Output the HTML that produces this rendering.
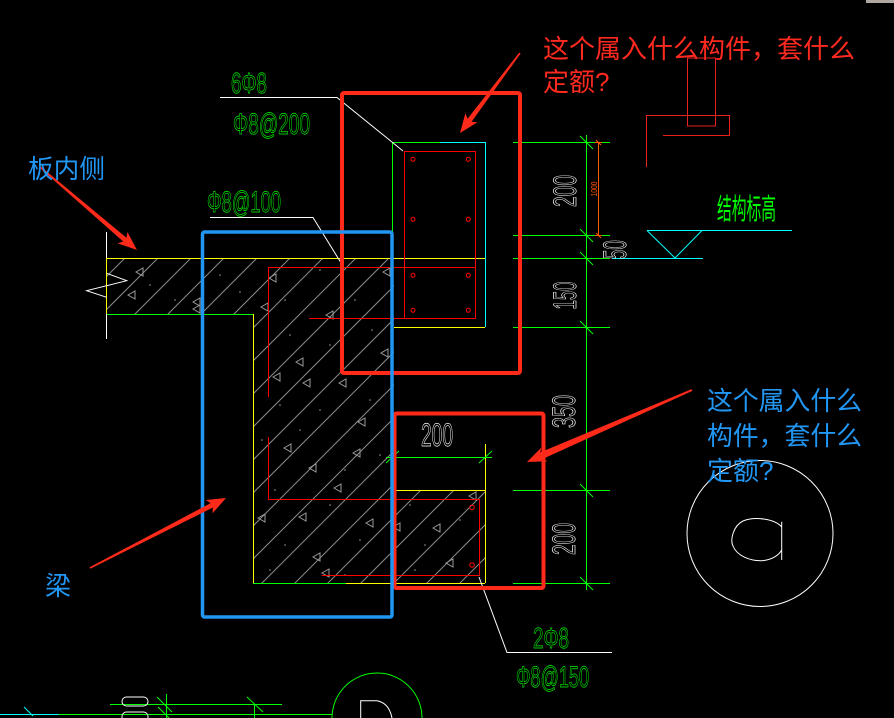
<!DOCTYPE html>
<html>
<head>
<meta charset="utf-8">
<style>
html,body{margin:0;padding:0;background:#000;width:894px;height:718px;overflow:hidden;}
svg{display:block;overflow:hidden;}
.cad{font-family:"Liberation Sans",sans-serif;fill:none;stroke-width:0.7;}
.cn{font-family:"Liberation Sans","Noto Sans CJK SC",sans-serif;}
</style>
</head>
<body>
<svg width="894" height="718" viewBox="0 0 894 718" xmlns="http://www.w3.org/2000/svg">
<defs>
  <clipPath id="conc">
    <polygon points="106,258 394,258 394,490 485,490 485,583 253,583 253,314 106,314"/>
  </clipPath>
  <path id="tri" d="M-4 0L3 -4L3 4Z" fill="none" stroke="#9a9a9a" stroke-width="1"/>
</defs>
<rect x="0" y="0" width="894" height="718" fill="#000"/>

<!-- hatch -->
<g clip-path="url(#conc)" stroke="#8c8c8c" stroke-width="1" fill="none">
  <path d="M350 0L-350 700M383 0L-317 700M416 0L-284 700M449 0L-251 700M482 0L-218 700M515 0L-185 700M548 0L-152 700M581 0L-119 700M614 0L-86 700M647 0L-53 700M680 0L-20 700M713 0L13 700M746 0L46 700M779 0L79 700M812 0L112 700M845 0L145 700M878 0L178 700M911 0L211 700M944 0L244 700M977 0L277 700M1010 0L310 700M1043 0L343 700M1076 0L376 700"/>
</g>
<!-- concrete triangles -->
<g>
  <use href="#tri" x="140" y="272"/><use href="#tri" x="132" y="295"/><use href="#tri" x="197" y="302"/>
  <use href="#tri" x="197" y="309"/><use href="#tri" x="273" y="278"/><use href="#tri" x="265" y="307"/>
  <use href="#tri" x="387" y="272"/><use href="#tri" x="330" y="315"/><use href="#tri" x="300" y="362"/>
  <use href="#tri" x="277" y="377"/><use href="#tri" x="307" y="383"/><use href="#tri" x="343" y="383"/>
  <use href="#tri" x="385" y="353"/><use href="#tri" x="362" y="422"/><use href="#tri" x="288" y="448"/>
  <use href="#tri" x="313" y="468"/><use href="#tri" x="357" y="453"/><use href="#tri" x="338" y="488"/>
  <use href="#tri" x="262" y="518"/><use href="#tri" x="303" y="517"/><use href="#tri" x="370" y="523"/>
  <use href="#tri" x="317" y="557"/><use href="#tri" x="326" y="573"/><use href="#tri" x="397" y="527"/>
  <use href="#tri" x="437" y="528"/><use href="#tri" x="450" y="563"/><use href="#tri" x="473" y="496"/>
</g>
<g fill="#9a9a9a">
  <circle cx="150" cy="285" r="0.8"/><circle cx="175" cy="300" r="0.8"/><circle cx="220" cy="275" r="0.8"/>
  <circle cx="240" cy="292" r="0.8"/><circle cx="285" cy="300" r="0.8"/><circle cx="320" cy="270" r="0.8"/>
  <circle cx="355" cy="300" r="0.8"/><circle cx="372" cy="330" r="0.8"/><circle cx="290" cy="335" r="0.8"/>
  <circle cx="330" cy="345" r="0.8"/><circle cx="280" cy="405" r="0.8"/><circle cx="320" cy="410" r="0.8"/>
  <circle cx="370" cy="400" r="0.8"/><circle cx="262" cy="440" r="0.8"/><circle cx="300" cy="430" r="0.8"/>
  <circle cx="345" cy="470" r="0.8"/><circle cx="380" cy="455" r="0.8"/><circle cx="275" cy="490" r="0.8"/>
  <circle cx="330" cy="505" r="0.8"/><circle cx="360" cy="540" r="0.8"/><circle cx="285" cy="545" r="0.8"/>
  <circle cx="270" cy="570" r="0.8"/><circle cx="345" cy="575" r="0.8"/><circle cx="410" cy="505" r="0.8"/>
  <circle cx="425" cy="545" r="0.8"/><circle cx="460" cy="520" r="0.8"/><circle cx="415" cy="570" r="0.8"/>
</g>

<!-- slab / beam outlines -->
<g fill="none" stroke-width="1">
  <line x1="106" y1="258.5" x2="485" y2="258.5" stroke="#ffff00"/>
  <line x1="106" y1="314.5" x2="253" y2="314.5" stroke="#00ff00"/>
  <line x1="106.5" y1="258" x2="106.5" y2="314" stroke="#ffff00"/>
  <line x1="253.5" y1="314" x2="253.5" y2="583" stroke="#ffff00"/>
  <line x1="253" y1="583.5" x2="346" y2="583.5" stroke="#00ff00"/>
  <line x1="346" y1="583.5" x2="485" y2="583.5" stroke="#ffff00"/>
  <line x1="394" y1="490.5" x2="485" y2="490.5" stroke="#ffff00"/>
  <line x1="485.5" y1="444" x2="485.5" y2="583" stroke="#ffff00"/>
  <!-- upper element -->
  <line x1="392.5" y1="142" x2="392.5" y2="258" stroke="#00ff00"/>
  <line x1="392" y1="142.5" x2="440" y2="142.5" stroke="#00ff00"/>
  <line x1="440" y1="142.5" x2="485" y2="142.5" stroke="#00ffff"/>
  <line x1="485.5" y1="142" x2="485.5" y2="327" stroke="#00ffff"/>
  <line x1="394" y1="327.5" x2="485" y2="327.5" stroke="#ffff00"/>
  <!-- break line -->
  <line x1="106.5" y1="232" x2="106.5" y2="258" stroke="#ffffff"/>
  <line x1="106.5" y1="314" x2="106.5" y2="339" stroke="#ffffff"/>
  <polyline points="106.7,273.3 126.7,280.7 86.7,290.7 106.7,297.3" stroke="#ffffff"/>
</g>

<!-- red rebars -->
<g fill="none" stroke="#ff0000" stroke-width="1">
  <rect x="404.5" y="151.5" width="71" height="167"/>
  <line x1="268" y1="267.5" x2="476" y2="267.5"/>
  <line x1="309" y1="318.5" x2="404" y2="318.5"/>
  <line x1="268.5" y1="267" x2="268.5" y2="397"/>
  <polyline points="268.5,437 268.5,499.5 479.5,499.5 479.5,575.5 321.7,575.5"/>
  <circle cx="413" cy="159.3" r="2"/><circle cx="468.3" cy="159.3" r="2"/>
  <circle cx="413" cy="219.3" r="2"/><circle cx="468.3" cy="219.3" r="2"/>
  <circle cx="413" cy="275.3" r="2"/><circle cx="468.3" cy="275.3" r="2"/>
  <circle cx="413" cy="310.3" r="2"/><circle cx="468.3" cy="310.3" r="2"/>
  <circle cx="472" cy="507.3" r="2.3"/><circle cx="472" cy="565" r="2.3"/>
  <!-- top right shape -->
  <rect x="687.5" y="58" width="28" height="68" stroke="#e82020"/>
  <polyline points="646.5,167 646.5,115.5 729.5,115.5 729.5,135.5 663,135.5" stroke="#e82020"/>
</g>

<!-- white leaders -->
<g fill="none" stroke="#ffffff" stroke-width="1">
  <polyline points="220,97.5 337,97.5 403,151"/>
  <polyline points="210,217.5 313,217.5 338,258 343,266"/>
  <polyline points="479,577 507,652.5 612,652.5"/>
</g>

<!-- dimension lines -->
<g fill="none" stroke="#00ff00" stroke-width="1">
  <line x1="586.5" y1="135" x2="586.5" y2="590"/>
  <line x1="513" y1="142.5" x2="610" y2="142.5"/>
  <line x1="513" y1="235.5" x2="610" y2="235.5"/>
  <line x1="513" y1="258.5" x2="610" y2="258.5"/>
  <line x1="513" y1="327.5" x2="610" y2="327.5"/>
  <line x1="513" y1="490.5" x2="610" y2="490.5"/>
  <line x1="513" y1="583.5" x2="610" y2="583.5"/>
  <path d="M580 136L593 149M580 229L593 242M580 252L593 265M580 321L593 334M580 484L593 497M580 577L593 590"/>
  <line x1="386" y1="457.5" x2="492" y2="457.5"/>
  <path d="M386 463L399 451M479 463L492 451"/>
  <!-- bottom -->
  <line x1="110" y1="704.5" x2="282" y2="704.5"/>
  <line x1="59" y1="714.5" x2="332" y2="714.5"/>
  <line x1="166.5" y1="694" x2="166.5" y2="718"/>
  <line x1="254.5" y1="704" x2="254.5" y2="718"/>
  <path d="M157 697L172 712M158 707L169 718M247 697L263 712"/>
  <path d="M332 718A45 45 0 0 1 422 718"/>
</g>
<g fill="none" stroke="#00ffff" stroke-width="1">
  <line x1="0" y1="714.5" x2="59" y2="714.5"/>
  <path d="M24 707L33 716"/>
  <line x1="647" y1="230.5" x2="792" y2="230.5"/>
  <line x1="612" y1="258.5" x2="703" y2="258.5"/>
  <polyline points="647,230.5 675,258 702,230.5"/>
</g>
<!-- orange dim -->
<g stroke="#ff5a00" stroke-width="1" fill="none">
  <line x1="598.5" y1="142" x2="598.5" y2="235"/>
  <path d="M595 142.5L602 142.5M595 235.5L602 235.5M596 140L601 145M596 233L601 238"/>
</g>
<text transform="translate(597,189) rotate(-90)" text-anchor="middle" font-family="Liberation Sans,sans-serif" font-size="8" fill="#ff5a00" textLength="15" lengthAdjust="spacingAndGlyphs">1000</text>

<!-- white shapes -->
<g fill="none" stroke="#ffffff" stroke-width="1">
  <circle cx="760" cy="533.5" r="73"/>
  <path d="M781.7 527C775 519 755 516 743 521C733 526 730 540 733 546C737 556 750 561 762 560.7C772 560 779 555 781.7 550M781.7 521.7L781.7 560"/>
  <path d="M360.7 718L360.7 700.7L377 700.7Q389 703 392 718"/>
  <path d="M126.5 697H143.5A4.5 4.5 0 0 1 143.5 706H126.5A4.5 4.5 0 0 1 126.5 697Z"/>
  <path d="M122 718V716.5A4.5 4.5 0 0 1 126.5 712H143.5A4.5 4.5 0 0 1 148 716.5V718"/>
</g>
<rect x="866" y="0" width="28" height="3" fill="#b0a8a0"/>

<!-- CAD texts -->
<g class="cad" stroke="#ffffff">
  <text transform="translate(576,191) rotate(-90)" text-anchor="middle" font-size="32" textLength="32" lengthAdjust="spacingAndGlyphs">200</text>
  <text transform="translate(576,295.5) rotate(-90)" text-anchor="middle" font-size="32" textLength="28" lengthAdjust="spacingAndGlyphs">150</text>
  <text transform="translate(575,411.5) rotate(-90)" text-anchor="middle" font-size="32" textLength="33" lengthAdjust="spacingAndGlyphs">350</text>
  <text transform="translate(575,539) rotate(-90)" text-anchor="middle" font-size="32" textLength="32" lengthAdjust="spacingAndGlyphs">200</text>
  <text transform="translate(626,249.6) rotate(-90)" text-anchor="middle" font-size="32" textLength="19" lengthAdjust="spacingAndGlyphs">50</text>
  <text x="421" y="446" font-size="32" textLength="32" lengthAdjust="spacingAndGlyphs">200</text>
</g>
<g class="cad" stroke="#00ff00">
  <text x="231" y="93" font-size="29" textLength="36" lengthAdjust="spacingAndGlyphs">6Φ8</text>
  <text x="233" y="134" font-size="30" textLength="77" lengthAdjust="spacingAndGlyphs">Φ8@200</text>
  <text x="207" y="212" font-size="30" textLength="74" lengthAdjust="spacingAndGlyphs">Φ8@100</text>
  <text x="533" y="648" font-size="29" textLength="36" lengthAdjust="spacingAndGlyphs">2Φ8</text>
  <text x="516" y="687" font-size="30" textLength="73" lengthAdjust="spacingAndGlyphs">Φ8@150</text>
</g>
<text class="cn" x="717" y="219" font-size="29" fill="#00ff00" textLength="59" lengthAdjust="spacingAndGlyphs">结构标高</text>

<!-- annotation boxes -->
<rect x="342" y="93" width="178" height="280" fill="none" stroke="#ff2a1a" stroke-width="4" rx="2"/>
<rect x="394.5" y="413.5" width="149" height="174.5" fill="none" stroke="#ff2a1a" stroke-width="4" rx="2"/>
<rect x="202.5" y="232" width="189.5" height="385" fill="none" stroke="#2196f3" stroke-width="3.5" rx="2"/>

<!-- arrows -->
<g fill="#ff2a1a">
  <polygon points="39.48,167.61 123.21,241.50 117.68,243.35 137,250 127.44,231.95 126.47,237.70 40.52,166.39"/>
  <polygon points="519.36,52.52 467.6,118.7 465.4,113.3 460,133 477.4,122.3 471.6,121.7 520.64,53.48"/>
  <polygon points="691.6,389.1 540.27,452.39 541.42,447.53 527,462 547.42,461.27 543.07,458.81 692.4,390.9"/>
  <polygon points="90.37,568.71 212.91,507.54 212.53,513.36 226,498 205.67,500.02 210.63,503.10 89.63,567.29"/>
</g>

<!-- annotation texts -->
<g class="cn" font-size="26">
  <text x="543" y="58" fill="#ff2a1f" textLength="312" lengthAdjust="spacingAndGlyphs">这个属入什么构件，套什么</text>
  <text x="543" y="91" fill="#ff2a1f">定额?</text>
  <text x="707" y="410" fill="#2196f3" textLength="155" lengthAdjust="spacingAndGlyphs">这个属入什么</text>
  <text x="707" y="445" fill="#2196f3" textLength="155" lengthAdjust="spacingAndGlyphs">构件，套什么</text>
  <text x="707" y="480" fill="#2196f3">定额?</text>
  <text x="28" y="178" fill="#2196f3" textLength="77" lengthAdjust="spacingAndGlyphs">板内侧</text>
  <text x="45" y="595" fill="#2196f3">梁</text>
</g>
</svg>
</body>
</html>
